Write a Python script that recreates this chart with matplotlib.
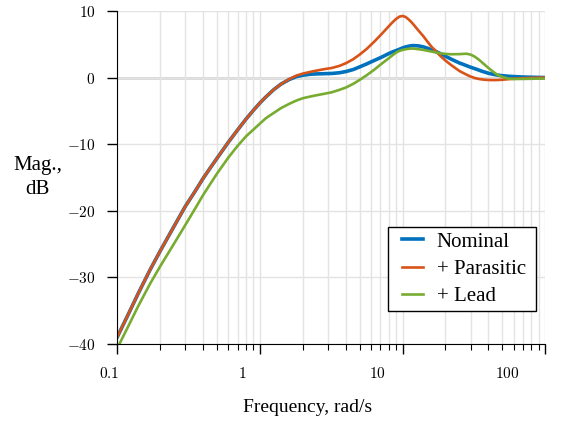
import matplotlib as mpl
from matplotlib import pyplot as plt
from matplotlib.legend_handler import HandlerLine2D
from matplotlib.ticker import FixedLocator, FixedFormatter, LogLocator, NullFormatter
from matplotlib.transforms import ScaledTranslation

mpl.rcParams['font.family'] = 'serif'
mpl.rcParams['font.serif'] = ['Liberation Serif', 'DejaVu Serif']
mpl.rcParams['mathtext.fontset'] = 'cm'

freq = [0.1, 0.12, 0.14, 0.17, 0.2, 0.25, 0.3, 0.35, 0.4, 0.45, 0.5, 0.6,
        0.7, 0.8, 0.9, 1.0, 1.1, 1.25, 1.4, 1.6, 1.8, 2.0, 2.25, 2.5, 2.8,
        3.2, 3.6, 4.0, 4.5, 5.0, 5.6, 6.3, 7.1, 8.0, 8.5, 9.0, 9.5, 10, 10.5,
        11, 11.5, 12, 13, 14, 15, 16, 17, 18, 20, 22, 25, 28, 30, 32, 34, 36,
        38, 40, 43, 46, 50, 55, 60, 70, 80, 90, 100]

nominal = [-38.9, -35.4, -32.4, -28.8, -26.0, -22.3, -19.3, -17.1, -15.1, -13.5,
           -12.1, -9.7, -7.8, -6.2, -4.9, -3.8, -2.9, -1.8, -1.0, -0.3, 0.15,
           0.35, 0.5, 0.55, 0.58, 0.62, 0.72, 0.9, 1.2, 1.6, 2.05, 2.55, 3.05,
           3.6, 3.85, 4.05, 4.25, 4.45, 4.6, 4.7, 4.78, 4.8, 4.75, 4.6, 4.4,
           4.15, 3.95, 3.7, 3.2, 2.75, 2.2, 1.8, 1.55, 1.35, 1.15, 0.95, 0.8,
           0.65, 0.5, 0.38, 0.28, 0.2, 0.15, 0.08, 0.05, 0.02, 0.0]

parasitic = [-38.9, -35.4, -32.4, -28.8, -26.0, -22.3, -19.3, -17.1, -15.1, -13.5,
             -12.1, -9.7, -7.8, -6.2, -4.9, -3.8, -2.9, -1.8, -1.0, -0.25, 0.3,
             0.6, 0.85, 1.05, 1.25, 1.45, 1.75, 2.15, 2.75, 3.45, 4.3, 5.35, 6.5,
             7.7, 8.3, 8.8, 9.15, 9.25, 9.1, 8.75, 8.35, 7.9, 7.0, 6.2, 5.35,
             4.6, 4.05, 3.45, 2.55, 1.85, 1.0, 0.45, 0.15, -0.05, -0.2, -0.28,
             -0.33, -0.36, -0.38, -0.37, -0.33, -0.25, -0.18, -0.1, -0.05, -0.02,
             0.0]

lead = [-40.6, -37.2, -34.3, -30.9, -28.3, -24.9, -22.1, -19.7, -17.6, -15.9,
        -14.4, -12.0, -10.2, -8.8, -7.8, -6.9, -6.1, -5.3, -4.6, -3.95, -3.45,
        -3.1, -2.85, -2.65, -2.45, -2.2, -1.85, -1.5, -0.95, -0.35, 0.35, 1.15,
        2.05, 2.9, 3.35, 3.75, 4.0, 4.15, 4.25, 4.32, 4.35, 4.35, 4.25, 4.15,
        4.02, 3.9, 3.78, 3.68, 3.55, 3.5, 3.52, 3.58, 3.45, 3.15, 2.75, 2.3,
        1.85, 1.45, 0.9, 0.45, 0.1, -0.15, -0.22, -0.2, -0.18, -0.16, -0.15]

xticks = [0.1, 1, 10, 100]
xtick_labels = ['$0.1$', '$1$', '$10$', '$100$']
yticks = [-40, -30, -20, -10, 0, 10]
ytick_labels = ['$-40$', '$-30$', '$-20$', '$-10$', '$0$', '$10$']


class ShortLine(HandlerLine2D):
    # legend line drawn only on the right part of the handle box
    def get_xdata(self, legend, xdescent, ydescent, width, height, fontsize):
        xd, xm = super().get_xdata(legend, xdescent, ydescent, width, height, fontsize)
        return [-xdescent + 0.30 * width, -xdescent + width], xm


fig = plt.figure(figsize=(5.62, 4.22), dpi=100)
ax = fig.add_axes([0.209, 0.185, 0.761, 0.789])

ax.plot(freq, nominal, color='#0072BD', lw=2.6, label='Nominal')
ax.plot(freq, parasitic, color='#D95319', lw=1.9, label='+ Parasitic')
ax.plot(freq, lead, color='#77AC30', lw=1.9, label='+ Lead')

ax.set_xscale('log')
ax.set_xlim(0.1, 100)
ax.set_ylim(-40, 10)

ax.xaxis.set_major_locator(FixedLocator(xticks))
ax.xaxis.set_major_formatter(FixedFormatter(xtick_labels))
ax.xaxis.set_minor_locator(LogLocator(base=10, subs=range(2, 10)))
ax.xaxis.set_minor_formatter(NullFormatter())
ax.set_yticks(yticks)
ax.set_yticklabels(ytick_labels)

ax.grid(True, which='both', axis='x', color='#e3e3e3', lw=1)
ax.grid(True, which='major', axis='y', color='#e3e3e3', lw=1)
ax.axhline(0, color='#d6d6d6', lw=2, zorder=0.5)
ax.set_axisbelow(True)

for s in ['top', 'right']:
    ax.spines[s].set_visible(False)
ax.tick_params(which='major', direction='out', length=7, width=1, pad=9,
               labelsize=11, colors='black')
ax.tick_params(which='minor', direction='out', length=4, width=0.8)

# the x tick labels in the original sit a bit left of their ticks
shifts = [-8.5, -18, -25.5, -38]
for lab, dx in zip(ax.get_xticklabels(), shifts):
    lab.set_transform(lab.get_transform() + ScaledTranslation(dx / 100, 0, fig.dpi_scale_trans))

ax.set_xlabel('Frequency, rad/s', fontsize=14)
ax.xaxis.set_label_coords(0.4456, -0.164)
ax.set_ylabel('Mag.,\ndB', fontsize=15, rotation=0, ha='center', va='center',
              linespacing=1.35)
ax.yaxis.set_label_coords(-0.187, 0.5)

leg = ax.legend(loc='lower left', bbox_to_anchor=(0.6335, 0.099, 0.3448, 0.2),
                mode='expand', borderaxespad=0, fontsize=15, fancybox=False,
                edgecolor='black', framealpha=1, handlelength=1.45,
                handletextpad=0.64, labelspacing=0.37, borderpad=0.23,
                handler_map={mpl.lines.Line2D: ShortLine()})
leg.get_frame().set_linewidth(1)

plt.savefig('out.png', dpi=100)
